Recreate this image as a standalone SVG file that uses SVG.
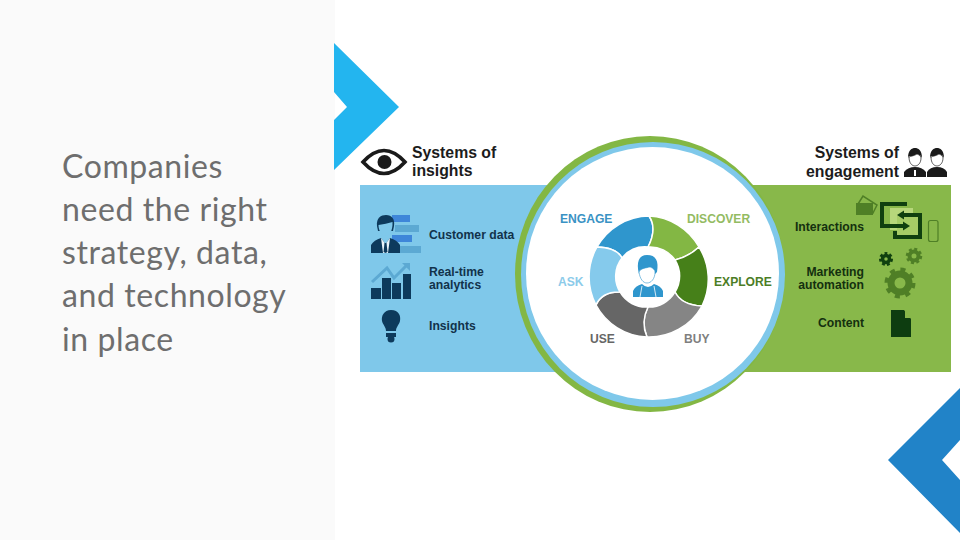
<svg xmlns="http://www.w3.org/2000/svg" width="960" height="540" viewBox="0 0 960 540">
<style>
.t{font-family:"Liberation Sans",Arial,sans-serif;font-weight:700;fill:#12324a}
.h{font-size:15.8px;fill:#1c1c1c}
.s{font-size:12.2px}
.g{fill:#14300f;font-size:12.2px}
.title{font-family:"Lato","Open Sans",sans-serif;font-size:32px;fill:#6e6e6e;letter-spacing:.6px}
.seg{stroke:#fff;stroke-width:1.5}
.wl{font-family:"Liberation Sans",sans-serif;font-weight:700;font-size:12.1px}
</style>
<rect width="960" height="540" fill="#fff"/>
<rect id="sidebar" width="335" height="540" fill="#fafafa"/>
<g id="title"><text class="title">
<tspan x="62" y="178">Companies</tspan>
<tspan x="62" y="221">need the right</tspan>
<tspan x="62" y="264">strategy, data,</tspan>
<tspan x="62" y="307">and technology</tspan>
<tspan x="62" y="351">in place</tspan></text></g>
<polygon id="chevron-top" points="334,43 399,107 334,170 334,120 347,107 334,92" fill="#23b5ef"/>
<polygon id="chevron-bottom" points="960,388 888,460 960,533 960,480 942,460 960,440" fill="#2183c8"/>
<g id="panels">
<rect x="360" y="185" width="230" height="187" fill="#7fc8ea"/>
<rect x="710" y="185" width="241" height="187" fill="#88b84a"/>
</g>
<g id="ring">
<ellipse cx="650" cy="274" rx="135" ry="138" fill="#83b744"/>
<ellipse cx="653" cy="274.500" rx="132" ry="132.500" fill="#7fc8ea"/>
<ellipse cx="652.500" cy="273.500" rx="126.500" ry="126.500" fill="#fff"/>
</g>
<g id="wheel">
<path id="seg-engage" class="seg" fill="#2f96cd" d="M597,247 A60.5,60.5 0 0 1 649,216 Q657.5,228.5 648,247 A30,30 0 0 0 622,258 Q616.5,247.5 597,247Z"/>
<path id="seg-discover" class="seg" fill="#83b744" d="M649,216 A60.5,60.5 0 0 1 699,247 Q689,256.5 675,260 A30,30 0 0 0 648,247 Q657.5,228.5 649,216Z"/>
<path id="seg-explore" class="seg" fill="#468019" d="M699,247 A60.5,60.5 0 0 1 702,306 Q681.5,305 675,292 A30,30 0 0 0 675,260 Q689,256.5 699,247Z"/>
<path id="seg-buy" class="seg" fill="#858585" d="M702,306 A60.5,60.5 0 0 1 647,337 Q640.5,322 648,307 A30,30 0 0 0 675,292 Q681.5,305 702,306Z"/>
<path id="seg-use" class="seg" fill="#666" d="M647,337 A60.5,60.5 0 0 1 596,305 Q602,291.5 620,292 A30,30 0 0 0 648,307 Q640.5,322 647,337Z"/>
<path id="seg-ask" class="seg" fill="#85caec" d="M596,305 A60.5,60.5 0 0 1 597,247 Q616.5,247.5 622,258 A30,30 0 0 0 620,292 Q602,291.5 596,305Z"/>
<g id="person-center" fill="#2f96cd">
<path d="M647,255 C656,255 659,261 657,272 L655,274 C655,270 653,268 650,267 Q645,270 640,270 L639,274 C636,262 639,255 647,255Z"/>
<path d="M639,272 C641,268 646,268 650,267 C653,268 655,270 655,272 C655,279 651,283 647,283 C643,283 640,279 639,272Z" fill="#fff" stroke="#2f96cd" stroke-width=".6"/>
<path d="M633,297 L633,291 Q635,286 642,284 Q648,290 654,284 Q661,286 663,291 L663,297Z"/>
<path d="M640,297 L642,286 M656,297 L654,286" stroke="#fff" stroke-width=".8"/>
</g>
</g>
<g id="wheel-labels" class="wl">
<text class="wl" x="560" y="223" fill="#3a92c4">ENGAGE</text>
<text class="wl" x="687" y="223" fill="#93bb62">DISCOVER</text>
<text class="wl" x="558" y="286" fill="#8ccbea">ASK</text>
<text class="wl" x="714" y="286" fill="#4c7d25">EXPLORE</text>
<text class="wl" x="590" y="343" fill="#666">USE</text>
<text class="wl" x="684" y="343" fill="#7f7f7f">BUY</text>
</g>
<g id="systems-insights">
<path d="M363,162 Q384,139 405,162 Q384,185 363,162Z" fill="#fff" stroke="#1a1a1a" stroke-width="3.6"/>
<circle cx="384.500" cy="162" r="7" fill="#1a1a1a"/>
<text class="t h"><tspan x="412" y="158">Systems of</tspan><tspan x="412" y="176">insights</tspan></text>
</g>
<g id="insights-icons">
<g fill="#3e86d9"><rect x="392" y="215" width="18" height="7"/><rect x="392" y="235" width="20" height="7"/></g>
<g fill="#5ca9d3"><rect x="395" y="225" width="24" height="7"/><rect x="400" y="246" width="21" height="7"/></g>
<path d="M377,226 C376,218 381,215 386,215 C392,215 395,219 394,226 L393,231 L378,231Z" fill="#0d3a5c"/>
<path d="M378.500,225 Q386,224 392.500,222 C393,231 389,236 385.500,236 C382,236 378.500,231 378.500,225Z" fill="#7fc8ea"/>
<path d="M371,253 L371,245 Q374,240 381,238 L385.500,244 L390,238 Q397,240 400,245 L400,253Z" fill="#0d3a5c"/>
<path d="M381,238 L385.500,244 L390,238 L388,253 L383,253Z" fill="#eaf5fb"/>
<path d="M384.500,243 L386.500,243 L387.500,252 L385.500,253 L383.500,252Z" fill="#0d3a5c"/>
<g fill="#0d3a5c"><rect x="371" y="288" width="10" height="11"/><rect x="382" y="278" width="9" height="21"/><rect x="392" y="283" width="9" height="16"/><rect x="403" y="274" width="8" height="25"/></g>
<path d="M372,282 L387,268 L394,278 L407,265" fill="none" stroke="#5ca9d3" stroke-width="3"/>
<path d="M402,263 L410,263 L410,271Z" fill="#5ca9d3"/>
<path d="M391,310 C399,310 401,316 400,321 C399,325 396,327 396,331 L386,331 C386,327 383,325 382,321 C381,316 384,310 391,310Z" fill="#0d3a5c"/>
<rect x="386" y="333" width="10" height="4" fill="#0d3a5c"/>
<circle cx="391" cy="339" r="3.500" fill="#0d3a5c"/>
</g>
<g id="insights-labels">
<text class="t s" x="429" y="239">Customer data</text>
<text class="t s"><tspan x="429" y="276">Real-time</tspan><tspan x="429" y="289">analytics</tspan></text>
<text class="t s" x="429" y="330">Insights</text>
</g>
<g id="systems-engagement">
<text class="t h" text-anchor="end"><tspan x="899" y="158">Systems of</tspan><tspan x="899" y="177">engagement</tspan></text>
<g fill="#1a1a1a">
<path d="M908,158 C908,150 912,148 915,148 C918,148 922,150 922,158 Q921,155 917,154 Q912,157 909,156Z"/>
<path d="M909,157 C911,156 914,156 917,154 C920,155 921,157 921,158 C921,163 918,166 915,166 C912,166 909,163 909,157Z" fill="#fff" stroke="#1a1a1a" stroke-width=".7"/>
<path d="M930,158 C930,150 934,148 937,148 C940,148 944,150 944,158 Q943,155 939,154 Q934,157 931,156Z"/>
<path d="M931,157 C933,156 936,156 939,154 C942,155 943,157 943,158 C943,163 940,166 937,166 C934,166 931,163 931,157Z" fill="#fff" stroke="#1a1a1a" stroke-width=".7"/>
<path d="M904,177 L904,172 Q908,167 915,167 Q922,167 926,172 L926,177Z"/>
<path d="M927,177 L927,172 Q930,167 937,167 Q944,167 947,172 L947,177Z"/>
<rect x="914" y="170" width="2" height="6" fill="#fff"/>
</g>
</g>
<g id="engagement-icons">
<path d="M858,204 L863,196 L877,205 L873,213Z" fill="none" stroke="#4f7f26" stroke-width="1.500"/>
<rect x="856" y="203" width="17" height="12" fill="#4f7f26"/>
<rect x="890" y="208" width="23" height="22" fill="#b7d77b"/>
<rect x="897" y="216" width="24" height="22" fill="#a6cc66"/>
<path d="M907,204 L882,204 L882,226 L903,226" fill="none" stroke="#10400f" stroke-width="4"/>
<path d="M903,221.500 L910,226 L903,230.500Z" fill="#10400f"/>
<path d="M902,215 L920,215 L920,237 L895,237 L895,231" fill="none" stroke="#10400f" stroke-width="4"/>
<path d="M904,210.500 L897,215 L904,219.500Z" fill="#10400f"/>
<rect x="928.500" y="220.500" width="9.500" height="21" rx="2" fill="none" stroke="#4f7f26" stroke-width="1.200"/>
<g fill="none">
<circle cx="886" cy="259" r="3.500" stroke="#10400f" stroke-width="3.500"/>
<circle cx="914" cy="256" r="4.500" stroke="#4f7f26" stroke-width="4"/>
<circle cx="900" cy="283" r="9" stroke="#4f7f26" stroke-width="7"/>
<circle cx="886" cy="259" r="5.500" stroke="#10400f" stroke-width="3" stroke-dasharray="2.700 2.070"/>
<circle cx="914" cy="256" r="7" stroke="#4f7f26" stroke-width="2.500" stroke-dasharray="3 2.500"/>
<circle cx="900" cy="283" r="13.500" stroke="#4f7f26" stroke-width="4" stroke-dasharray="5 5.600"/>
</g>
<path d="M891,310 L904,310 L911,319 L911,337 L891,337Z" fill="#0d3d10"/>
<path d="M905,310 L911,318 L905,318Z" fill="#88b84a"/>
</g>
<g id="engagement-labels">
<text class="t g" x="864" y="231" text-anchor="end">Interactions</text>
<text class="t g" text-anchor="end"><tspan x="864" y="276">Marketing</tspan><tspan x="864" y="289">automation</tspan></text>
<text class="t g" x="864" y="327" text-anchor="end">Content</text>
</g>
</svg>
